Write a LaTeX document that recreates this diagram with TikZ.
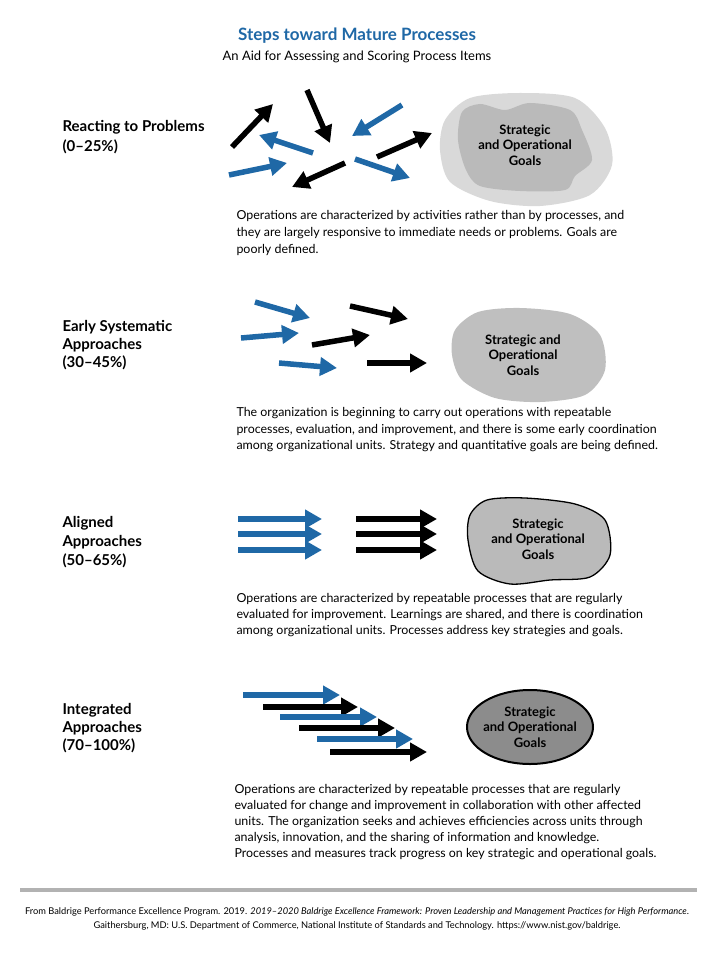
\documentclass[tikz,border=0pt]{standalone}
\usepackage{fontspec}
\setmainfont{Lato}
\usetikzlibrary{arrows.meta}
\definecolor{nblue}{HTML}{1F68A6}
\begin{document}
\begin{tikzpicture}[x=1pt,y=-1pt,
 arr/.style={line width=5.5pt,-{Triangle[length=17pt,width=18pt]}},
 bl/.style={arr,nblue}, bk/.style={arr,black},
 head/.style={anchor=west,font=\fontsize{15}{17}\selectfont\bfseries},
 para/.style={anchor=west,font=\fontsize{12.4}{14}\selectfont},
 goal/.style={align=center,font=\fontsize{13}{15.5}\selectfont\bfseries},
 foot/.style={font=\fontsize{9.3}{11}\selectfont}]
\useasboundingbox (0,0) rectangle (714,960);
\node[font=\fontsize{17}{20}\selectfont\bfseries,text=nblue] (t) at (357,36) {Steps toward Mature Processes};
\node[font=\fontsize{13}{15}\selectfont] (st) at (357,57) {An Aid for Assessing and Scoring Process Items};
% row 1
\node[head] (h1a) at (59,127) {Reacting to Problems};
\node[head] (h1b) at (59,147) {(0--25\%)};
\draw[bk] (232,147) -- (273,104);
\draw[bk] (307,90) -- (330,143);
\draw[bl] (313,153) -- (259,135);
\draw[bl] (402,105) -- (352,136);
\draw[bk] (377,157) -- (432,133);
\draw[bl] (229,175) -- (287,163);
\draw[bk] (345,163) -- (292,187);
\draw[bl] (355,159) -- (410,178);
\fill[black!15] plot[smooth cycle] coordinates {(445,120) (470,98) (520,93) (575,98) (605,128) (612,165) (590,195) (540,206) (490,201) (450,182) (440,150)};
\fill[black!27] plot[smooth cycle] coordinates {(462,112) (480,104) (505,110) (530,103) (570,110) (582,130) (592,160) (575,176) (565,190) (520,191) (480,186) (466,170) (458,140)};
\node[goal] (g1) at (525,145) {Strategic\\and Operational\\Goals};
\node[para] (p1a) at (233,216) {Operations are characterized by activities rather than by processes, and};
\node[para] (p1b) at (233,233) {they are largely responsive to immediate needs or problems. Goals are};
\node[para] (p1c) at (233,250) {poorly defined.};
% row 2
\node[head] (h2a) at (59,327) {Early Systematic};
\node[head] (h2b) at (59,345) {Approaches};
\node[head] (h2c) at (59,363) {(30--45\%)};
\draw[bl] (255,302) -- (310,318);
\draw[bl] (241,338) -- (299,333);
\draw[bl] (279,363) -- (337,368);
\draw[bk] (350,306) -- (408,319);
\draw[bk] (312,345) -- (370,335);
\draw[bk] (367,363) -- (427,363);
\fill[black!25] plot[smooth cycle] coordinates {(455,330) (478,312) (520,308) (570,314) (600,335) (605,370) (585,395) (540,402) (495,398) (462,380) (452,355)};
\node[goal] (g2) at (523,355) {Strategic and\\Operational\\Goals};
\node[para] (p2a) at (233,413) {The organization is beginning to carry out operations with repeatable};
\node[para] (p2b) at (233,430) {processes, evaluation, and improvement, and there is some early coordination};
\node[para] (p2c) at (233,446) {among organizational units. Strategy and quantitative goals are being defined.};
% row 3
\node[head] (h3a) at (59,523) {Aligned};
\node[head] (h3b) at (59,542) {Approaches};
\node[head] (h3c) at (59,561) {(50--65\%)};
\foreach \y in {519,534,550}{
 \draw[bl] (238,\y) -- (322,\y);
 \draw[bk] (356,\y) -- (437,\y);}
\draw[line width=1.3pt,fill=black!27] plot[smooth cycle] coordinates {(470,515) (487,500) (525,498) (575,504) (605,520) (610,555) (590,577) (550,580) (510,584) (478,571) (468,540)};
\node[goal] (g3) at (538,539) {Strategic\\and Operational\\Goals};
\node[para] (p3a) at (233,599) {Operations are characterized by repeatable processes that are regularly};
\node[para] (p3b) at (233,615) {evaluated for improvement. Learnings are shared, and there is coordination};
\node[para] (p3c) at (233,631) {among organizational units. Processes address key strategies and goals.};
% row 4
\node[head] (h4a) at (59,710) {Integrated};
\node[head] (h4b) at (59,728) {Approaches};
\node[head] (h4c) at (59,746) {(70--100\%)};
\draw[bl] (243,695) -- (340,695);
\draw[bk] (263,707) -- (358,707);
\draw[bl] (280,717) -- (377,717);
\draw[bk] (299,728) -- (395,728);
\draw[bl] (317,739) -- (413,739);
\draw[bk] (330,752) -- (427,752);
\draw[line width=2pt,fill=black!45] (530,727) ellipse [x radius=63, y radius=37];
\node[goal] (g4) at (530,727) {Strategic\\and Operational\\Goals};
\node[para] (p4a) at (231,790) {Operations are characterized by repeatable processes that are regularly};
\node[para] (p4b) at (231,806) {evaluated for change and improvement in collaboration with other affected};
\node[para] (p4c) at (231,822) {units. The organization seeks and achieves efficiencies across units through};
\node[para] (p4d) at (231,838) {analysis, innovation, and the sharing of information and knowledge.};
\node[para] (p4e) at (231,854) {Processes and measures track progress on key strategic and operational goals.};
% footer
\draw[black!30,line width=3.5pt] (20,890) -- (697,890);
\node[foot] (f1) at (357,912) {From Baldrige Performance Excellence Program. 2019. \textit{2019--2020 Baldrige Excellence Framework: Proven Leadership and Management Practices for High Performance}.};
\node[foot] (f2) at (357,926) {Gaithersburg, MD: U.S. Department of Commerce, National Institute of Standards and Technology. https://www.nist.gov/baldrige.};
\end{tikzpicture}
\end{document}
